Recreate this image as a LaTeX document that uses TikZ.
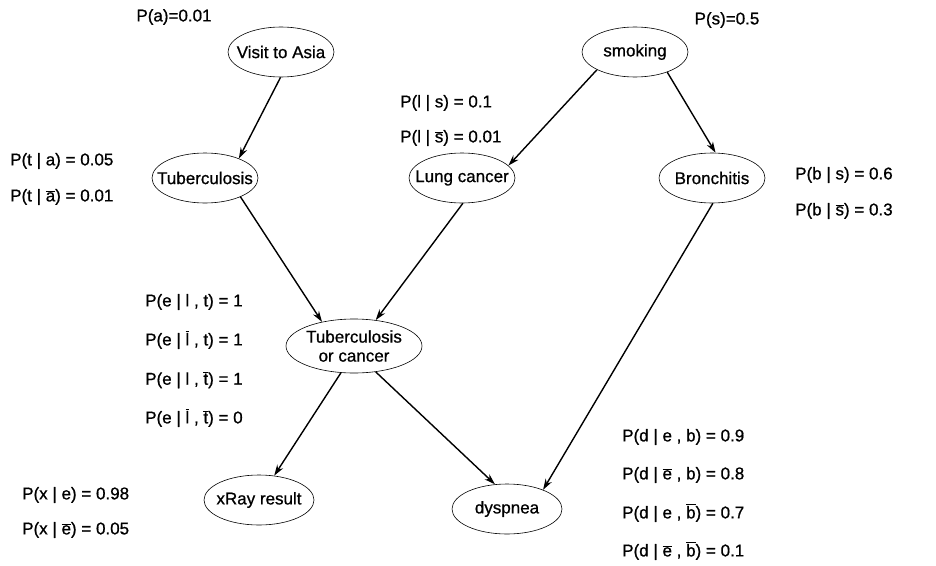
\documentclass[tikz,border=0pt]{standalone}
\usepackage{fontspec}
\setmainfont[FakeBold=0.8]{Liberation Sans}
\usetikzlibrary{shapes.geometric,arrows.meta}
\newcommand\ob[1]{$\overline{\mbox{#1}}$}
\begin{document}
\begin{tikzpicture}[x=1pt,y=-1pt,
  bnode/.style={ellipse,draw,line width=0.6pt,minimum width=106pt,minimum height=50pt,inner xsep=-12pt,inner ysep=0pt,font=\fontsize{17}{19}\selectfont,align=center},
  prob/.style={anchor=west,inner sep=0pt,font=\fontsize{17}{19}\selectfont},
  edge/.style={line width=1.4pt,-{Stealth[length=11pt,width=7pt]}}]
\path[use as bounding box,fill=white] (0,0) rectangle (936,565);
% nodes
\node[bnode] (asia) at (281,52) {Visit to Asia};
\node[bnode] (smoke) at (635,52) {smoking};
\node[bnode] (tub) at (205,178) {Tuberculosis};
\node[bnode] (lung) at (462,178) {Lung cancer};
\node[bnode] (bron) at (712,178) {Bronchitis};
\node[bnode,minimum width=136pt,minimum height=54pt] (torc) at (354,346) {Tuberculosis\\or cancer};
\node[bnode,minimum width=110pt] (xray) at (259,500) {xRay result};
\node[bnode,minimum width=110pt] (dysp) at (507,509) {dyspnea};
% probabilities
\node[prob,anchor=center] (pa) at (174,17) {P(a)=0.01};
\node[prob,anchor=center] (ps) at (727,20) {P(s)=0.5};
\node[prob] (pls1) at (400,103) {P(l | s) = 0.1};
\node[prob] (pls2) at (400,138) {P(l | \ob{s}) = 0.01};
\node[prob] (pta1) at (10,161) {P(t | a) = 0.05};
\node[prob] (pta2) at (10,197) {P(t | \ob{a}) = 0.01};
\node[prob] (pbs1) at (795,175) {P(b | s) = 0.6};
\node[prob] (pbs2) at (795,211) {P(b | \ob{s}) = 0.3};
\node[prob] (pe1) at (145,302) {P(e | l , t) = 1};
\node[prob] (pe2) at (145,340) {P(e | \ob{l} , t) = 1};
\node[prob] (pe3) at (145,380) {P(e | l , \ob{t}) = 1};
\node[prob] (pe4) at (145,418) {P(e | \ob{l} , \ob{t}) = 0};
\node[prob] (px1) at (22,495) {P(x | e) = 0.98};
\node[prob] (px2) at (22,530) {P(x | \ob{e}) = 0.05};
\node[prob] (pd1) at (622,437) {P(d | e , b) = 0.9};
\node[prob] (pd2) at (622,475) {P(d | \ob{e} , b) = 0.8};
\node[prob] (pd3) at (622,513) {P(d | e , \ob{b}) = 0.7};
\node[prob] (pd4) at (622,551) {P(d | \ob{e} , \ob{b}) = 0.1};
% edges
\draw[edge] (asia.-91) -- (tub.30);
\draw[edge] (smoke.205) -- (lung.15);
\draw[edge] (smoke.-32) -- (bron.82);
\draw[edge] (tub.-28) -- (torc.143);
\draw[edge] (lung.-88) -- (torc.50);
\draw[edge] (bron.-88) -- (dysp.28);
\draw[edge] (torc.-116) -- (xray.58);
\draw[edge] (torc.-50) -- (dysp.116);
\end{tikzpicture}
\end{document}
